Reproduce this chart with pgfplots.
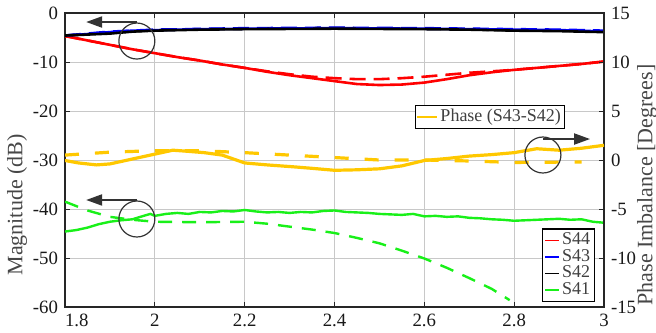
\documentclass[border=0pt]{standalone}
\usepackage{fontspec}
\setmainfont{Liberation Serif}
\usepackage{pgfplots}
\pgfplotsset{compat=1.18}
\usetikzlibrary{arrows.meta}

\definecolor{cS44}{RGB}{255,0,0}
\definecolor{cS43}{RGB}{0,0,255}
\definecolor{cS42}{RGB}{0,0,0}
\definecolor{cS41}{RGB}{25,240,25}
\definecolor{cPhase}{RGB}{255,200,0}
\definecolor{annot}{RGB}{51,51,51}
\definecolor{gridc}{RGB}{200,200,200}

\pgfplotsset{
  common/.style={
    scale only axis, width=269.5pt, height=147pt,
    at={(0,0)}, anchor=south west,
    xmin=1.8, xmax=3,
    tick align=inside, major tick length=2.5pt,
    tick style={black!85, line width=0.5pt},
    axis line style={black!85, line width=0.7pt},
    tick label style={font=\fontsize{9.4}{10}\selectfont, text=black!90},
    /pgf/number format/assume math mode=true,
    label style={font=\fontsize{11}{12}\selectfont, text=black!72},
  },
  lg/.style={
    legend cell align=left,
    legend style={draw=black, line width=0.6pt, fill=white,
      font=\fontsize{9}{9}\selectfont, text=black!75,
      inner sep=0.8pt, row sep=-1.6pt,
      nodes={inner sep=1.2pt}},
  },
}

\begin{document}
\begin{tikzpicture}

% ---------------- magnitude (left axis) ----------------
\begin{axis}[common, lg,
  ymin=-60, ymax=0, ytick={-60,-50,-40,-30,-20,-10,0},
  xtick={1.8,2,2.2,2.4,2.6,2.8,3},
  xticklabels={\makebox[0pt][l]{1.8},2,2.2,2.4,2.6,2.8,3},
  ytick pos=left,
  grid=major, major grid style={gridc, line width=0.5pt},
  ylabel={Magnitude (dB)},
  ylabel style={at={(axis description cs:-0.089,0.347)}, anchor=center},
  legend style={at={(0.983,0.017)}, anchor=south east},
  legend image code/.code={\draw[#1, line width=0.7pt] (0pt,0pt) -- (7pt,0pt);},
]
% dashed traces (second data set)
\addplot[cS44, line width=1.3pt, dash pattern=on 8pt off 4pt, forget plot] coordinates {
(1.80,-4.7) (1.85,-5.6) (1.90,-6.5) (1.95,-7.4) (2.00,-8.2) (2.05,-9.0)
(2.10,-9.7) (2.15,-10.5) (2.20,-11.2) (2.25,-11.9) (2.30,-12.5) (2.35,-13.0)
(2.40,-13.3) (2.45,-13.5) (2.50,-13.5) (2.55,-13.3) (2.60,-13.0) (2.65,-12.6)
(2.70,-12.2) (2.75,-11.9) (2.80,-11.6) (2.85,-11.2) (2.90,-10.8) (2.95,-10.4) (3.00,-9.9)};
\addplot[cS43, line width=1.3pt, dash pattern=on 8pt off 4pt, forget plot] coordinates {
(1.80,-4.6) (1.90,-3.8) (2.00,-3.4) (2.20,-3.1) (2.40,-3.0) (2.60,-3.1)
(2.80,-3.3) (2.90,-3.4) (3.00,-3.6)};
\addplot[cS42, line width=1.3pt, dash pattern=on 8pt off 4pt, forget plot] coordinates {
(1.80,-4.6) (1.90,-4.0) (2.00,-3.5) (2.20,-3.2) (2.40,-3.1) (2.60,-3.2)
(2.80,-3.5) (2.90,-3.6) (3.00,-3.8)};
\addplot[cS41, line width=1.2pt, dash pattern=on 7pt off 5pt, forget plot] coordinates {
(1.80,-38.5) (1.85,-40.3) (1.90,-41.6) (1.95,-42.2) (2.00,-42.6) (2.10,-42.7)
(2.20,-42.6) (2.25,-43.0) (2.30,-43.6) (2.35,-44.2) (2.40,-44.9) (2.45,-45.9)
(2.50,-47.0) (2.55,-48.5) (2.60,-50.1) (2.65,-52.0) (2.70,-54.1) (2.75,-56.3) (2.79,-58.6)};

% solid traces (first data set)
\addplot[cS44, line width=1.3pt] coordinates {
(1.80,-4.7) (1.85,-5.6) (1.90,-6.5) (1.95,-7.4) (2.00,-8.2) (2.05,-9.0)
(2.10,-9.7) (2.15,-10.5) (2.20,-11.2) (2.25,-12.0) (2.30,-12.7) (2.35,-13.3)
(2.40,-13.9) (2.45,-14.5) (2.50,-14.7) (2.55,-14.6) (2.60,-14.2) (2.65,-13.5)
(2.70,-12.7) (2.75,-12.1) (2.80,-11.6) (2.85,-11.2) (2.90,-10.8) (2.95,-10.4) (3.00,-9.9)};
\addlegendentry{S44}
\addplot[cS43, line width=1.3pt] coordinates {
(1.80,-4.6) (1.85,-4.3) (1.90,-3.9) (1.95,-3.6) (2.00,-3.5) (2.10,-3.3)
(2.20,-3.2) (2.40,-3.1) (2.60,-3.2) (2.80,-3.4) (2.90,-3.5) (2.95,-3.6) (3.00,-3.8)};
\addlegendentry{S43}
\addplot[cS42, line width=1.3pt] coordinates {
(1.80,-4.6) (1.85,-4.4) (1.90,-4.2) (1.95,-3.8) (2.00,-3.6) (2.10,-3.4)
(2.20,-3.3) (2.40,-3.2) (2.60,-3.3) (2.70,-3.4) (2.75,-3.5) (2.80,-3.6)
(2.90,-3.7) (3.00,-3.9)};
\addlegendentry{S42}
\addplot[cS41, line width=1.2pt] coordinates {
(1.800,-44.6) (1.825,-44.3) (1.850,-43.8) (1.875,-43.1) (1.900,-42.6)
(1.925,-42.3) (1.950,-42.1) (1.975,-41.4) (1.990,-41.0) (2.000,-41.4)
(2.025,-41.0) (2.050,-40.8) (2.075,-41.0) (2.100,-40.6) (2.125,-40.7)
(2.150,-40.4) (2.175,-40.5) (2.200,-40.2) (2.225,-40.5) (2.250,-40.7)
(2.275,-40.6) (2.300,-40.8) (2.325,-40.6) (2.350,-40.7) (2.375,-40.4)
(2.400,-40.3) (2.425,-40.6) (2.450,-40.7) (2.475,-40.8) (2.500,-41.0)
(2.525,-41.1) (2.550,-41.2) (2.575,-41.0) (2.600,-41.5) (2.625,-41.4)
(2.650,-41.6) (2.675,-41.5) (2.700,-41.8) (2.725,-41.9) (2.750,-42.1)
(2.775,-42.2) (2.800,-42.4) (2.825,-42.3) (2.850,-42.2) (2.875,-42.1)
(2.900,-42.0) (2.925,-42.2) (2.950,-42.1) (2.975,-42.6) (3.000,-42.8)};
\addlegendentry{S41}
\end{axis}

% ---------------- phase imbalance (right axis) ----------------
\begin{axis}[common, lg,
  axis y line*=right, axis x line=none,
  ymin=-15, ymax=15, ytick={-15,-10,-5,0,5,10,15},
  ylabel={Phase Imbalance [Degrees]},
  ylabel style={at={(axis description cs:1.080,0.415)}, anchor=center},
  legend style={at={(0.928,0.646)}, anchor=east, inner sep=0.6pt},
  legend image code/.code={\draw[#1, line width=0.8pt] (0pt,0pt) -- (10pt,0pt);},
]
\addplot[cPhase, line width=1.6pt, dash pattern=on 7pt off 8pt, forget plot] coordinates {
(1.80,0.5) (1.90,0.8) (2.00,0.95) (2.10,0.95) (2.20,0.75) (2.30,0.5)
(2.40,0.25) (2.50,0.0) (2.60,0.0) (2.70,-0.1) (2.80,-0.25) (2.95,-0.2)};
\addplot[cPhase, line width=1.6pt] coordinates {
(1.80,-0.05) (1.83,-0.3) (1.87,-0.5) (1.90,-0.4) (1.93,-0.1) (1.96,0.2)
(2.00,0.6) (2.04,1.0) (2.07,0.9) (2.11,0.75) (2.15,0.5) (2.20,-0.3)
(2.25,-0.5) (2.31,-0.7) (2.35,-0.85) (2.40,-1.05) (2.45,-1.0) (2.50,-0.9)
(2.55,-0.6) (2.60,-0.05) (2.65,0.15) (2.70,0.4) (2.75,0.55) (2.80,0.75)
(2.85,1.15) (2.90,1.0) (2.95,1.2) (3.00,1.5)};
\addlegendentry{Phase (S43-S42)}

% axis markers: circles with arrows pointing to the relevant axis
\draw[annot, line width=0.6pt] (axis cs:1.96,12.14) circle [radius=9pt];
\draw[annot, line width=1pt, -{Triangle[length=8pt,width=5.5pt]}]
  (axis cs:1.96,14.08) -- (axis cs:1.847,14.08);
\draw[annot, line width=0.6pt] (axis cs:1.96,-6.02) circle [radius=9pt];
\draw[annot, line width=1pt, -{Triangle[length=8pt,width=5.5pt]}]
  (axis cs:1.96,-4.08) -- (axis cs:1.847,-4.08);
\draw[annot, line width=0.6pt] (axis cs:2.864,0.51) circle [radius=9pt];
\draw[annot, line width=1pt, -{Triangle[length=8pt,width=5.5pt]}]
  (axis cs:2.864,2.14) -- (axis cs:2.969,2.14);
\end{axis}

\pgfresetboundingbox
\path[use as bounding box] (-32.5pt,-12.5pt) rectangle (295.5pt,153.5pt);
\end{tikzpicture}
\end{document}
